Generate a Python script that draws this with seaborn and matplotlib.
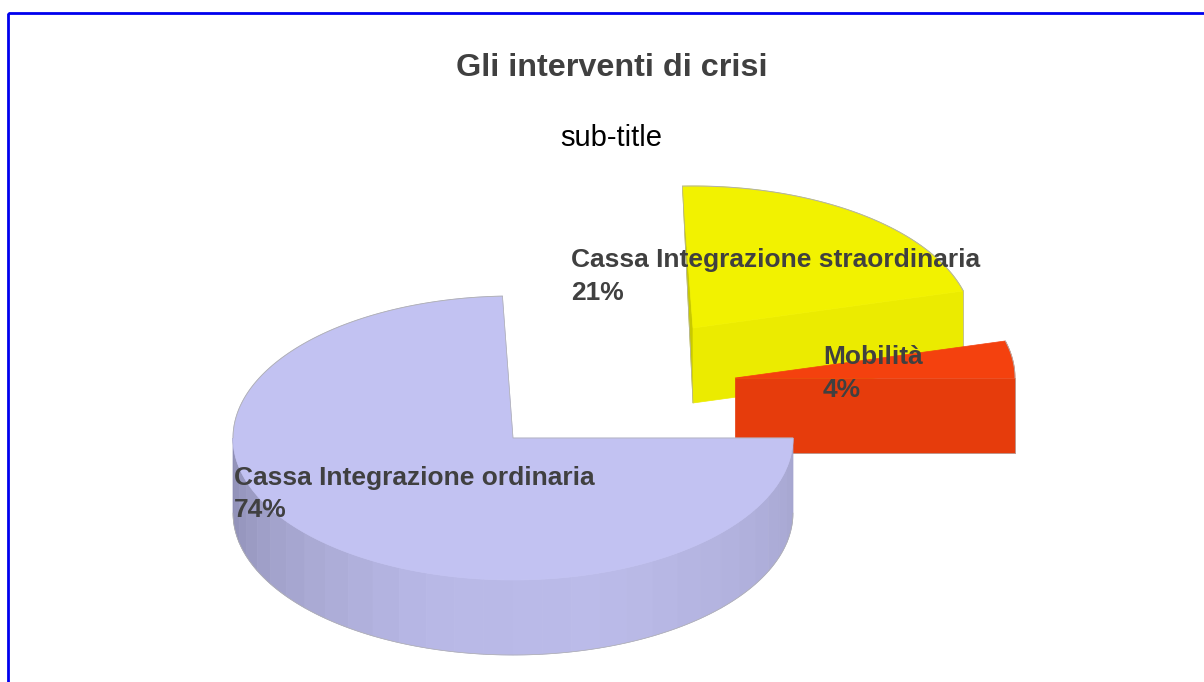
import numpy as np
import seaborn as sns
import matplotlib.pyplot as plt
from matplotlib.patches import Polygon, Rectangle

# valori (in senso antiorario partendo da est)
categories = ["Mobilità", "Cassa Integrazione straordinaria", "Cassa Integrazione ordinaria"]
shares = [4.2, 21.4, 74.4]
pct_labels = ["4%", "21%", "74%"]

title = "Gli interventi di crisi"
subtitle = "sub-title"

sns.set_theme(style="white")
plt.rcParams['font.family'] = ['Liberation Sans', 'DejaVu Sans']

RX, RY, DEPTH = 280, 142, 75
TEXT = "#404040"
EDGE = "#b0b0b0"


def ell(cx, cy, a0, a1, n=120):
    t = np.radians(np.linspace(a0, a1, n))
    return np.column_stack([cx + RX * np.cos(t), cy - RY * np.sin(t)])


fig, ax = plt.subplots(figsize=(12.04, 6.82), dpi=100)
ax.set_position([0, 0, 1, 1])
ax.set_xlim(0, 1204)
ax.set_ylim(682, 0)
ax.axis('off')

# cornice blu, aperta a destra e in basso
ax.add_patch(Rectangle((8, 13), 1300, 800, fill=False, edgecolor="#0000ee", linewidth=2))

angles = np.cumsum([0] + shares) * 3.6
a_red = (angles[0], angles[1])
a_yel = (angles[1], angles[2])
a_big = (angles[2], angles[3])

# fetta gialla
cx, cy = 693, 328
yel = ell(cx, cy, *a_yel)
ax.add_patch(Polygon([yel[-1], (cx, cy), (cx, cy + DEPTH)], fc="#c9c900", ec="#c9c900", lw=0.5, zorder=3))
ax.add_patch(Polygon([(cx, cy), yel[0], yel[0] + (0, DEPTH), (cx, cy + DEPTH)], fc="#ebeb00", ec="#ebeb00", lw=0.5, zorder=3))
ax.add_patch(Polygon(np.vstack([[(cx, cy)], yel]), fc="#f2f200", ec="#f2f200", lw=0.5, zorder=3))
ax.plot(yel[:, 0], yel[:, 1], color=EDGE, lw=0.7, zorder=4)
ax.plot([yel[0, 0], yel[0, 0]], [yel[0, 1], yel[0, 1] + DEPTH], color=EDGE, lw=0.5, zorder=4)
ax.plot([yel[-1, 0], cx, cx], [yel[-1, 1], cy + DEPTH, cy + DEPTH], color=EDGE, lw=0.5, zorder=4)

# fetta rossa
cx, cy = 735, 378
red = ell(cx, cy, *a_red)
ax.add_patch(Polygon([(cx, cy), red[0], red[0] + (0, DEPTH), (cx, cy + DEPTH)], fc="#e63c0c", ec="#e63c0c", lw=0.5, zorder=5))
ax.add_patch(Polygon(np.vstack([[(cx, cy)], red]), fc="#f4410e", ec="#f4410e", lw=0.5, zorder=5))
ax.plot(red[:, 0], red[:, 1], color=EDGE, lw=0.6, zorder=6)
ax.plot([cx + RX, cx + RX, cx], [cy, cy + DEPTH, cy + DEPTH], color=EDGE, lw=0.5, zorder=6)

# fetta grande con bordo a bande
cx, cy = 513, 438
steps = np.arange(180, 361, 6)
rim_colors = sns.blend_palette(["#8f8fb6", "#a6a6d0", "#b8b8e6", "#bbbbe9", "#b2b2de", "#a6a6d0"], len(steps) - 1)
for a0, a1, col in zip(steps[:-1], steps[1:], rim_colors):
    top = ell(cx, cy, a0, a1, 8)
    strip = np.vstack([top, (top + (0, DEPTH))[::-1]])
    ax.add_patch(Polygon(strip, fc=col, ec=col, lw=0.5, zorder=7))
big = ell(cx, cy, *a_big, n=300)
ax.add_patch(Polygon(np.vstack([[(cx, cy)], big]), fc="#c2c2f2", ec="#c2c2f2", lw=0.5, zorder=8))
back = ell(cx, cy, a_big[0], 180)
ax.plot(back[:, 0], back[:, 1], color=EDGE, lw=0.6, zorder=9)
ax.plot([back[0, 0], cx, cx + RX], [back[0, 1], cy, cy], color=EDGE, lw=0.5, zorder=9)
low = ell(cx, cy + DEPTH, 180, 360)
ax.plot(low[:, 0], low[:, 1], color=EDGE, lw=0.5, zorder=9)

# testi
ax.text(612, 76, title, ha='center', va='baseline', fontsize=23.3, fontweight='bold', color=TEXT, zorder=10)
ax.text(611.5, 146, subtitle, ha='center', va='baseline', fontsize=21, color="black", zorder=10)

label_pos = [(823, 364, 397), (571, 267, 300), (234, 485, 517)]
for name, pct, (x, y1, y2) in zip(categories, pct_labels, label_pos):
    ax.text(x, y1, name, ha='left', va='baseline', fontsize=19, fontweight='bold', color=TEXT, zorder=10)
    ax.text(x, y2, pct, ha='left', va='baseline', fontsize=19, fontweight='bold', color=TEXT, zorder=10)

plt.savefig("out.png", dpi=100)
plt.close(fig)
